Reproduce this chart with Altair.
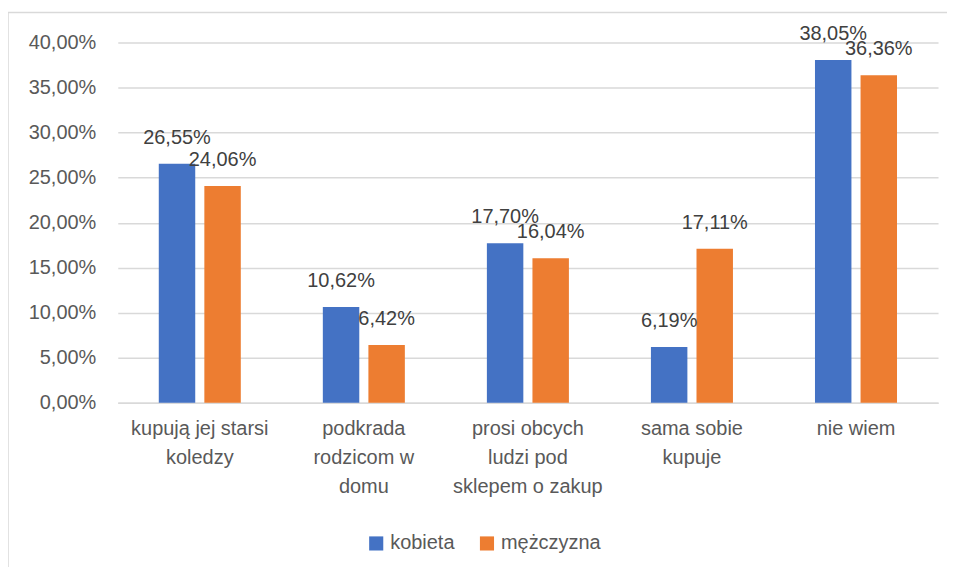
import altair as alt
import pandas as pd

categories = [
    "kupują jej starsi\nkoledzy",
    "podkrada\nrodzicom w\ndomu",
    "prosi obcych\nludzi pod\nsklepem o zakup",
    "sama sobie\nkupuje",
    "nie wiem",
]
series = ["kobieta", "mężczyzna"]
kobieta = [26.55, 10.62, 17.70, 6.19, 38.05]
mezczyzna = [24.06, 6.42, 16.04, 17.11, 36.36]
colors = ["#4472C4", "#ED7D31"]
y_ticks = [0, 5, 10, 15, 20, 25, 30, 35, 40]

rows = []
for c, k, m in zip(categories, kobieta, mezczyzna):
    rows.append({"kategoria": c, "płeć": series[0], "wartość": k})
    rows.append({"kategoria": c, "płeć": series[1], "wartość": m})
df = pd.DataFrame(rows)

FONT = "Liberation Sans"

x = alt.X(
    "kategoria:N",
    sort=categories,
    title=None,
    scale=alt.Scale(paddingInner=0.5, paddingOuter=0.25),
    axis=alt.Axis(
        labelExpr="split(datum.label, '\\n')",
        labelAngle=0,
        labelFontSize=20,
        labelColor="#595959",
        labelFont=FONT,
        labelLineHeight=29,
        labelPadding=16,
        ticks=False,
        domainColor="#D9D9D9",
        domainWidth=1.5,
        labelLimit=300,
    ),
)
xoff = alt.XOffset(
    "płeć:N",
    sort=series,
    scale=alt.Scale(paddingInner=0.2, paddingOuter=0),
)
y = alt.Y(
    "wartość:Q",
    title=None,
    scale=alt.Scale(domain=[0, 40], nice=False),
    axis=alt.Axis(
        values=y_ticks,
        labelExpr="replace(format(datum.value, '.2f'), '.', ',') + '%'",
        labelFontSize=20,
        labelColor="#595959",
        labelFont=FONT,
        labelPadding=22,
        ticks=False,
        domain=False,
        gridColor="#D9D9D9",
        gridWidth=1.5,
    ),
)
color = alt.Color(
    "płeć:N",
    sort=series,
    scale=alt.Scale(domain=series, range=colors),
    legend=alt.Legend(
        title=None,
        orient="none",
        direction="horizontal",
        legendX=249,
        legendY=492,
        symbolType="square",
        symbolSize=200,
        symbolStrokeWidth=0,
        labelFontSize=20,
        labelColor="#595959",
        labelFont=FONT,
        columnPadding=22,
        labelOffset=4,
    ),
)

base = alt.Chart(df).encode(x=x, xOffset=xoff, y=y)

bars = base.mark_bar().encode(color=color)

labels = base.transform_calculate(
    etykieta="replace(format(datum['wartość'], '.2f'), '.', ',') + '%'"
).mark_text(
    baseline="middle",
    dy=-26,
    fontSize=20,
    font=FONT,
    color="#404040",
).encode(text="etykieta:N")

frame_df = pd.DataFrame({"k": [0]})
frame_left = alt.Chart(frame_df).mark_rule(color="#D9D9D9", strokeWidth=1.5).encode(
    x=alt.value(-110), y=alt.value(-30), y2=alt.value(600)
)
frame_top = alt.Chart(frame_df).mark_rule(color="#D9D9D9", strokeWidth=1.5).encode(
    x=alt.value(-110), x2=alt.value(900), y=alt.value(-30)
)

chart = (
    alt.layer(frame_left, frame_top, bars, labels)
    .properties(
        width=822,
        height=361,
        autosize=alt.AutoSizeParams(type="none"),
        padding={"left": 110, "top": 34, "right": 9, "bottom": 164},
        background="white",
    )
    .configure_view(stroke=None)
)

chart.save("out.html", embed_options={"renderer": "svg", "actions": False})
